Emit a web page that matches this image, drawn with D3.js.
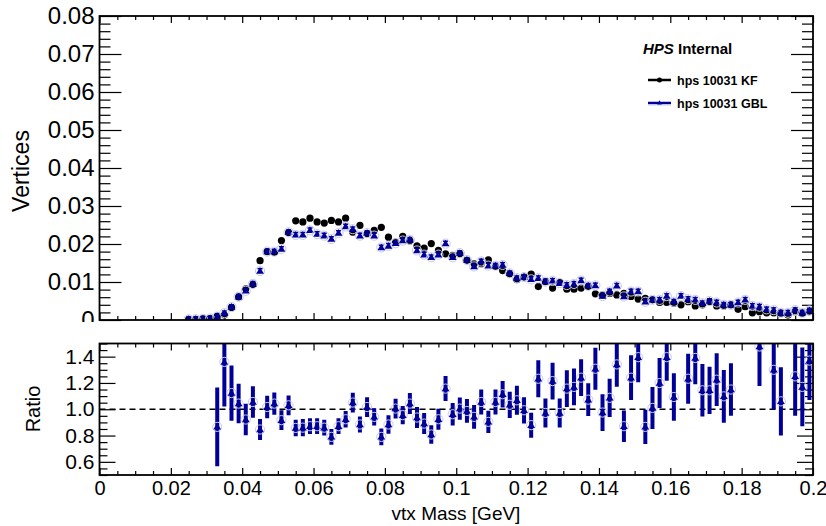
<!DOCTYPE html>
<html><head><meta charset="utf-8">
<script src="https://cdn.jsdelivr.net/npm/d3@7"></script>
<style>
html,body{margin:0;padding:0;background:#fff;}
svg{display:block;font-family:"Liberation Sans",Arial,Helvetica,sans-serif;}
</style></head>
<body>
<svg id="c" width="826" height="526"></svg>
<script>
// ---------- DATA ----------
const massBins = [0.025,0.027,0.029,0.031,0.033,0.035,0.037,0.039,0.041,0.043,
0.045,0.047,0.049,0.051,0.053,0.055,0.057,0.059,0.061,0.063,
0.065,0.067,0.069,0.071,0.073,0.075,0.077,0.079,0.081,0.083,
0.085,0.087,0.089,0.091,0.093,0.095,0.097,0.099,0.101,0.103,
0.105,0.107,0.109,0.111,0.113,0.115,0.117,0.119,0.121,0.123,
0.125,0.127,0.129,0.131,0.133,0.135,0.137,0.139,0.141,0.143,
0.145,0.147,0.149,0.151,0.153,0.155,0.157,0.159,0.161,0.163,
0.165,0.167,0.169,0.171,0.173,0.175,0.177,0.179,0.181,0.183,
0.185,0.187,0.189,0.191,0.193,0.195,0.197,0.199];

const kfValues = [0.0002,0.0002,0.0003,0.0004,0.0010,0.0013,0.0033,0.0061,0.0082,0.0093,
0.0156,0.0180,0.0178,0.0209,0.0230,0.0261,0.0258,0.0268,0.0258,0.0255,
0.0262,0.0258,0.0268,0.0231,0.0249,0.0227,0.0236,0.0244,0.0218,0.0205,
0.0220,0.0208,0.0195,0.0189,0.0201,0.0183,0.0174,0.0170,0.0174,0.0157,
0.0148,0.0148,0.0158,0.0141,0.0130,0.0121,0.0106,0.0113,0.0121,0.0088,
0.0101,0.0084,0.0099,0.0081,0.0081,0.0084,0.0088,0.0069,0.0066,0.0070,
0.0066,0.0070,0.0062,0.0055,0.0057,0.0053,0.0046,0.0046,0.0044,0.0040,
0.0048,0.0037,0.0040,0.0048,0.0037,0.0037,0.0040,0.0028,0.0035,0.0019,
0.0022,0.0019,0.0019,0.0018,0.0013,0.0022,0.0018,0.0022];

const gblValues = [0.0002,0.0002,0.0003,0.0004,0.0009,0.0018,0.0034,0.0061,0.0077,0.0095,
0.0129,0.0180,0.0180,0.0187,0.0231,0.0224,0.0224,0.0236,0.0226,0.0222,
0.0213,0.0229,0.0246,0.0239,0.0222,0.0229,0.0222,0.0191,0.0195,0.0202,
0.0209,0.0211,0.0183,0.0172,0.0165,0.0172,0.0201,0.0165,0.0176,0.0158,
0.0141,0.0154,0.0143,0.0143,0.0145,0.0123,0.0110,0.0113,0.0107,0.0110,
0.0101,0.0103,0.0097,0.0092,0.0095,0.0104,0.0090,0.0091,0.0063,0.0075,
0.0090,0.0062,0.0075,0.0075,0.0048,0.0053,0.0053,0.0063,0.0048,0.0063,
0.0055,0.0053,0.0044,0.0050,0.0046,0.0040,0.0040,0.0046,0.0053,0.0037,
0.0035,0.0028,0.0026,0.0019,0.0019,0.0026,0.0019,0.0025];

const kfError = 0.0005;
const gblError = 0.0006;

const ratioValues = [null,null,null,null,0.866,1.36,1.123,1.043,0.922,1.055,
0.846,1.017,1.043,0.917,1.030,0.858,0.860,0.871,0.871,0.860,
0.790,0.871,0.924,1.051,0.884,1.017,0.942,0.790,0.884,1.005,
0.955,1.043,0.937,0.891,0.808,0.924,1.157,0.962,1.005,0.987,
0.942,1.055,0.904,1.055,1.114,1.034,1.068,0.992,0.879,1.232,
0.972,1.214,0.972,1.157,1.170,1.240,1.073,1.308,0.975,1.087,
1.341,0.871,1.240,1.396,0.866,1.010,1.199,1.396,1.093,1.580,
1.232,1.390,1.144,1.144,1.225,1.098,1.150,1.640,1.520,1.950,
1.477,1.550,1.300,1.060,1.600,1.250,1.170,1.370];

const ratioErrors = [null,null,null,null,0.30,0.34,0.21,0.15,0.12,0.12,
0.08,0.085,0.085,0.075,0.075,0.063,0.065,0.06,0.06,0.06,
0.06,0.06,0.063,0.075,0.06,0.075,0.066,0.063,0.07,0.075,
0.07,0.08,0.08,0.08,0.07,0.08,0.095,0.085,0.085,0.09,
0.09,0.095,0.085,0.095,0.10,0.10,0.11,0.10,0.095,0.14,
0.11,0.14,0.11,0.14,0.14,0.14,0.125,0.16,0.14,0.145,
0.17,0.12,0.17,0.19,0.13,0.16,0.19,0.18,0.18,0.22,
0.19,0.20,0.20,0.18,0.20,0.20,0.20,0.30,0.30,0.30,
0.30,0.30,0.30,0.26,0.30,0.30,0.30,0.30];

const xTicks = [0,0.02,0.04,0.06,0.08,0.1,0.12,0.14,0.16,0.18,0.2];
const xTickLabels = ["0","0.02","0.04","0.06","0.08","0.1","0.12","0.14","0.16","0.18","0.2"];
const yTopTicks = [0,0.01,0.02,0.03,0.04,0.05,0.06,0.07,0.08];
const yTopTickLabels = ["0","0.01","0.02","0.03","0.04","0.05","0.06","0.07","0.08"];
const yBotTicks = [0.6,0.8,1.0,1.2,1.4];
const yBotTickLabels = ["0.6","0.8","1.0","1.2","1.4"];
const legendLabels = ["hps 10031 KF","hps 10031 GBL"];

// ---------- LAYOUT ----------
const L = 99.5, R = 813;
const topT = 16, topB = 320, botT = 343.5, botB = 475;
const BLUE = "#000099", LIGHT = "#c8c8f0";

const svg = d3.select("#c");
const x = d3.scaleLinear().domain([0,0.2]).range([L,R]);
const yT = d3.scaleLinear().domain([0,0.08]).range([topB,topT]);
const yB = d3.scaleLinear().domain([0.5,1.5]).range([botB,botT]);

const xMinor = d3.range(0,0.2001,0.005).filter(v=>Math.abs(v/0.02-Math.round(v/0.02))>1e-6);
const yTMinor = d3.range(0,0.0801,0.002).filter(v=>Math.abs(v/0.01-Math.round(v/0.01))>1e-6);
const yBMinor = d3.range(0.5,1.5001,0.05).filter(v=>Math.abs(v/0.2-Math.round(v/0.2))>1e-6);

const defs = svg.append("defs");
defs.append("clipPath").attr("id","topclip")
  .append("rect").attr("x",0).attr("y",0).attr("width",826).attr("height",topB+2);
defs.append("clipPath").attr("id","botclip")
  .append("rect").attr("x",L).attr("y",botT).attr("width",R-L).attr("height",botB-botT);
defs.append("clipPath").attr("id","topframe")
  .append("rect").attr("x",L).attr("y",topT).attr("width",R-L).attr("height",topB-topT);

function styleAxis(g, sw){
  g.select(".domain").remove();
  g.selectAll(".tick line").attr("stroke","#000").attr("stroke-width",sw||1.2);
}

// ---------- TOP PAD ----------
const topPad = svg.append("g").attr("clip-path","url(#topclip)");

topPad.append("g").attr("transform",`translate(0,${topB})`)
  .call(d3.axisBottom(x).tickValues(xTicks).tickSize(-7).tickFormat("")).call(styleAxis);
topPad.append("g").attr("transform",`translate(0,${topB})`)
  .call(d3.axisBottom(x).tickValues(xMinor).tickSize(-4).tickFormat("")).call(styleAxis);
topPad.append("g").attr("transform",`translate(0,${topT})`)
  .call(d3.axisTop(x).tickValues(xTicks).tickSize(-7).tickFormat("")).call(styleAxis);
topPad.append("g").attr("transform",`translate(0,${topT})`)
  .call(d3.axisTop(x).tickValues(xMinor).tickSize(-4).tickFormat("")).call(styleAxis);
const yAxL = topPad.append("g").attr("transform",`translate(${L},0)`)
  .call(d3.axisLeft(yT).tickValues(yTopTicks).tickSize(-22).tickPadding(5)
    .tickFormat((d,i)=>yTopTickLabels[i])).call(styleAxis);
yAxL.selectAll("text").attr("font-size",24).attr("fill","#000")
  .attr("font-family","Liberation Sans, Arial, sans-serif");
topPad.append("g").attr("transform",`translate(${L},0)`)
  .call(d3.axisLeft(yT).tickValues(yTMinor).tickSize(-11).tickFormat("")).call(styleAxis);
topPad.append("g").attr("transform",`translate(${R},0)`)
  .call(d3.axisRight(yT).tickValues(yTopTicks).tickSize(-22).tickFormat("")).call(styleAxis);
topPad.append("g").attr("transform",`translate(${R},0)`)
  .call(d3.axisRight(yT).tickValues(yTMinor).tickSize(-11).tickFormat("")).call(styleAxis);

const topData = massBins.map((m,i)=>({m, kf:kfValues[i], gbl:gblValues[i]}));
const plotT = topPad.append("g").attr("clip-path","url(#topframe)");
plotT.selectAll(".kfe").data(topData).join("line")
  .attr("x1",d=>x(d.m)).attr("x2",d=>x(d.m))
  .attr("y1",d=>yT(d.kf-kfError)).attr("y2",d=>yT(d.kf+kfError))
  .attr("stroke","#000").attr("stroke-width",2);
plotT.selectAll(".kfm").data(topData).join("circle")
  .attr("cx",d=>x(d.m)).attr("cy",d=>yT(d.kf)).attr("r",3.6).attr("fill","#000");
const gG = plotT.selectAll(".gb").data(topData).join("g");
gG.append("circle").attr("cx",d=>x(d.m)).attr("cy",d=>yT(d.gbl)).attr("r",4.6)
  .attr("fill","none").attr("stroke",LIGHT).attr("stroke-width",1);
gG.append("line").attr("x1",d=>x(d.m)).attr("x2",d=>x(d.m))
  .attr("y1",d=>yT(d.gbl-gblError)).attr("y2",d=>yT(d.gbl+gblError))
  .attr("stroke",BLUE).attr("stroke-width",1.6);
gG.append("line").attr("x1",d=>x(d.m)-2.5).attr("x2",d=>x(d.m)+2.5)
  .attr("y1",d=>yT(d.gbl+gblError)).attr("y2",d=>yT(d.gbl+gblError))
  .attr("stroke",BLUE).attr("stroke-width",1.5);
gG.append("path").attr("d",d3.symbol(d3.symbolTriangle,26))
  .attr("transform",d=>`translate(${x(d.m)},${yT(d.gbl)+0.5})`).attr("fill",BLUE);

topPad.append("rect").attr("x",L).attr("y",topT).attr("width",R-L).attr("height",topB-topT)
  .attr("fill","none").attr("stroke","#000").attr("stroke-width",1.8);

svg.append("text").attr("transform",`translate(29,171) rotate(-90)`)
  .attr("text-anchor","middle").attr("font-size",23).text("Vertices");

svg.append("text").attr("x",643).attr("y",54).attr("font-size",15).attr("font-weight","bold")
  .call(t=>{t.append("tspan").attr("font-style","italic").text("HPS");
            t.append("tspan").text(" Internal");});
const legY = [80,103];
const lg = svg.append("g");
lg.append("line").attr("x1",648).attr("x2",671).attr("y1",legY[0]).attr("y2",legY[0])
  .attr("stroke","#000").attr("stroke-width",2.5);
lg.append("circle").attr("cx",659.5).attr("cy",legY[0]).attr("r",2.5).attr("fill","#000");
lg.append("line").attr("x1",648).attr("x2",671).attr("y1",legY[1]).attr("y2",legY[1])
  .attr("stroke",BLUE).attr("stroke-width",2.5);
lg.append("line").attr("x1",648).attr("x2",671).attr("y1",legY[1]+2).attr("y2",legY[1]+2)
  .attr("stroke",LIGHT).attr("stroke-width",1);
lg.append("path").attr("d",d3.symbol(d3.symbolTriangle,10))
  .attr("transform",`translate(659.5,${legY[1]})`).attr("fill",BLUE);
legendLabels.forEach((s,i)=>{
  lg.append("text").attr("x",677).attr("y",legY[i]+4.5).attr("font-size",12.5)
    .attr("font-weight","bold").text(s);
});

// ---------- BOTTOM PAD ----------
const botPad = svg.append("g");
botPad.append("g").attr("transform",`translate(0,${botB})`)
  .call(d3.axisBottom(x).tickValues(xTicks).tickSize(-7).tickPadding(6)
    .tickFormat((d,i)=>xTickLabels[i])).call(styleAxis)
  .selectAll("text").attr("font-size",20).attr("fill","#000")
  .attr("font-family","Liberation Sans, Arial, sans-serif");
botPad.append("g").attr("transform",`translate(0,${botB})`)
  .call(d3.axisBottom(x).tickValues(xMinor).tickSize(-4).tickFormat("")).call(styleAxis);
botPad.append("g").attr("transform",`translate(0,${botT})`)
  .call(d3.axisTop(x).tickValues(xTicks).tickSize(-7).tickFormat("")).call(styleAxis);
botPad.append("g").attr("transform",`translate(0,${botT})`)
  .call(d3.axisTop(x).tickValues(xMinor).tickSize(-4).tickFormat("")).call(styleAxis);
botPad.append("g").attr("transform",`translate(${L},0)`)
  .call(d3.axisLeft(yB).tickValues(yBotTicks).tickSize(-16).tickPadding(5)
    .tickFormat((d,i)=>yBotTickLabels[i])).call(styleAxis)
  .selectAll("text").attr("font-size",21).attr("fill","#000")
  .attr("font-family","Liberation Sans, Arial, sans-serif");
botPad.append("g").attr("transform",`translate(${L},0)`)
  .call(d3.axisLeft(yB).tickValues(yBMinor).tickSize(-8).tickFormat("")).call(styleAxis);
botPad.append("g").attr("transform",`translate(${R},0)`)
  .call(d3.axisRight(yB).tickValues(yBotTicks).tickSize(-16).tickFormat("")).call(styleAxis);
botPad.append("g").attr("transform",`translate(${R},0)`)
  .call(d3.axisRight(yB).tickValues(yBMinor).tickSize(-8).tickFormat("")).call(styleAxis);

botPad.append("line").attr("x1",L).attr("x2",R).attr("y1",yB(1)).attr("y2",yB(1))
  .attr("stroke","#000").attr("stroke-width",1.3).attr("stroke-dasharray","6,4");

const ratioData = massBins.map((m,i)=>({m, r:ratioValues[i], e:ratioErrors[i]}))
  .filter(d=>d.r!==null && d.r>=0.5 && d.r<=1.5);
const plotB = botPad.append("g").attr("clip-path","url(#botclip)");
const rG = plotB.selectAll(".rp").data(ratioData).join("g");
rG.append("line").attr("x1",d=>x(d.m)).attr("x2",d=>x(d.m))
  .attr("y1",d=>yB(d.r-d.e)).attr("y2",d=>yB(d.r+d.e))
  .attr("stroke",BLUE).attr("stroke-width",4);
rG.append("circle").attr("cx",d=>x(d.m)).attr("cy",d=>yB(d.r)).attr("r",4.6)
  .attr("fill","none").attr("stroke",LIGHT).attr("stroke-width",1);
rG.append("path").attr("d",d3.symbol(d3.symbolTriangle,26))
  .attr("transform",d=>`translate(${x(d.m)},${yB(d.r)+0.5})`).attr("fill",BLUE);

botPad.append("rect").attr("x",L).attr("y",botT).attr("width",R-L).attr("height",botB-botT)
  .attr("fill","none").attr("stroke","#000").attr("stroke-width",1.8);

svg.append("text").attr("transform",`translate(40,409) rotate(-90)`)
  .attr("text-anchor","middle").attr("font-size",20).text("Ratio");
svg.append("text").attr("x",456).attr("y",520).attr("text-anchor","middle")
  .attr("font-size",19).text("vtx Mass [GeV]");
</script>
</body></html>
